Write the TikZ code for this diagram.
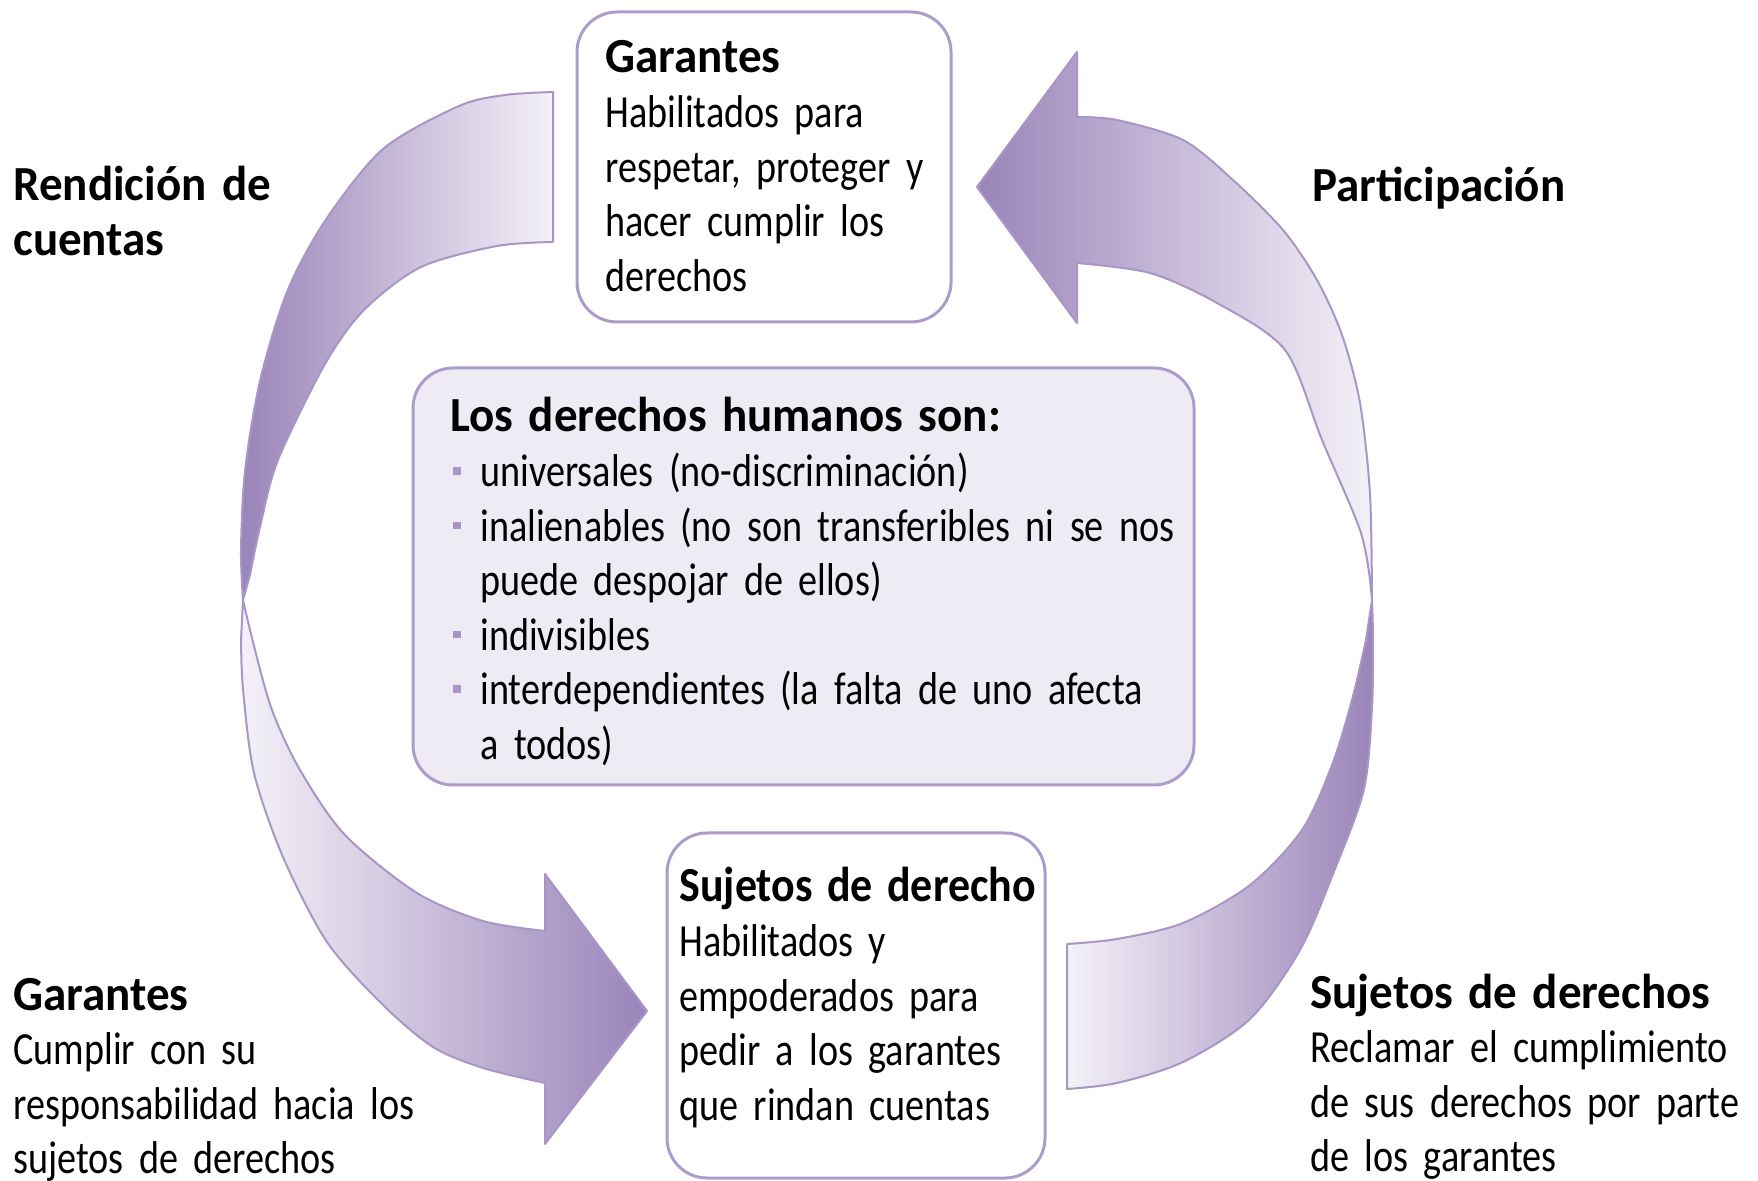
\documentclass[tikz,border=0pt]{standalone}
\usepackage{fontspec}
\setmainfont{Carlito}[FakeStretch=0.83]
\newfontfamily\headfont{Carlito}[FakeStretch=0.96]
\usepackage{graphicx}
\usetikzlibrary{positioning}

\definecolor{arrowdark}{HTML}{9A84B9}
\definecolor{arrowlight}{HTML}{F4F1F8}
\definecolor{arrowline}{HTML}{A796C6}
\definecolor{boxline}{HTML}{AC9CCB}
\definecolor{dhfill}{HTML}{EFEBF4}
\definecolor{dhbullet}{HTML}{A894C6}

\newcommand{\hd}[1]{{\headfont\bfseries\fontsize{24.5}{27.3}\selectfont #1}}
\newcommand{\itm}{\makebox[15pt][l]{\hspace{1.5pt}\textcolor{dhbullet}{\rule[6pt]{3.8pt}{3.8pt}}}}

\tikzset{
  ribbon/.style={draw=arrowline, line width=1pt, line join=round},
  roundbox/.style={draw=boxline, line width=1.5pt, rounded corners=20pt, inner sep=0pt},
  txt/.style={anchor=base west, inner sep=0pt, align=left, text width=#1,
    font=\fontsize{23}{27.3}\selectfont}
}

\begin{document}
\begin{tikzpicture}[x=0.5pt, y=-0.5pt]
  \useasboundingbox (0,0) rectangle (1758,1181);

  % Rendicion de cuentas: top box -> bottom box
  \path[ribbon, left color=arrowdark, right color=arrowlight]
    plot[smooth] coordinates {(553,92) (505,95) (459,106) (383,149) (325,221) (287,292) (260,381) (245,471) (241,550) (243,600)}
    -- plot[smooth] coordinates {(250,575) (260,527) (278,460) (325,364) (364,310) (421,267) (497,246) (553,242)} -- cycle;
  \path[ribbon, left color=arrowlight, right color=arrowdark]
    plot[smooth] coordinates {(243,600) (254,646) (272,710) (300,770) (345,835) (417,893) (483,921) (545,931)}
    -- (545,874) -- (647,1011) -- (545,1144)
    -- plot[smooth] coordinates {(545,1083) (483,1068) (433,1047) (383,1005) (327,942) (283,857) (254,773) (243,689) (241,640)} -- cycle;

  % Participacion: bottom box -> top box
  \path[ribbon, left color=arrowlight, right color=arrowdark]
    plot[smooth] coordinates {(1067,1089) (1117,1083) (1183,1062) (1250,1019) (1300,950) (1335,869) (1364,789) (1372,708) (1373,640) (1372,600)}
    -- plot[smooth] coordinates {(1366,640) (1352,700) (1332,765) (1302,830) (1250,885) (1183,923) (1117,939) (1067,944)} -- cycle;
  \path[ribbon, left color=arrowdark, right color=arrowlight]
    plot[smooth] coordinates {(1372,600) (1370,494) (1360,403) (1342,335) (1317,280) (1283,230) (1233,180) (1183,140) (1117,120) (1077,117)}
    -- (1077,52) -- (977,187) -- (1077,323)
    -- plot[smooth] coordinates {(1077,263) (1150,273) (1217,303) (1285,350) (1322,440) (1360,530) (1370,580)} -- cycle;

  % boxes
  \node[roundbox, minimum width=187pt, minimum height=155pt] (garbox) at (764,167) {};
  \node[roundbox, fill=dhfill, minimum width=390.5pt, minimum height=208.5pt] (dhbox) at (803.5,576.5) {};
  \node[roundbox, minimum width=189pt, minimum height=172.5pt] (sujbox) at (856,1005.5) {};

  \node[txt=180pt] (gartxt) at (605,73) {\hd{Garantes}\\
    Habilitados para\\ respetar, proteger y\\ hacer cumplir los\\ derechos};
  \node[txt=380pt] (dhtxt) at (450,432) {\hd{Los derechos humanos son:}\\
    \itm universales (no-discriminación)\\
    \itm inalienables (no son transferibles ni se nos\\
    \hspace*{15pt}puede despojar de ellos)\\
    \itm indivisibles\\
    \itm interdependientes (la falta de uno afecta\\
    \hspace*{15pt}a todos)};
  \node[txt=185pt] (sujtxt) at (679,902) {\hd{\scalebox{0.935}[1]{Sujetos de derecho}}\\
    Habilitados y\\ empoderados para\\ pedir a los garantes\\ que rindan cuentas};

  % side labels
  \node[txt=200pt] (rendicion) at (13,201) {\hd{Rendición de\\ cuentas}};
  \node[txt=200pt] (participa) at (1312,202) {\hd{Participación}};
  \node[txt=260pt] (garantes) at (13,1010) {\hd{Garantes}\\
    Cumplir con su\\ responsabilidad hacia los\\ sujetos de derechos};
  \node[txt=260pt] (sujetos) at (1310,1008) {\hd{Sujetos de derechos}\\
    Reclamar el cumplimiento\\ de sus derechos por parte\\ de los garantes};
\end{tikzpicture}
\end{document}
